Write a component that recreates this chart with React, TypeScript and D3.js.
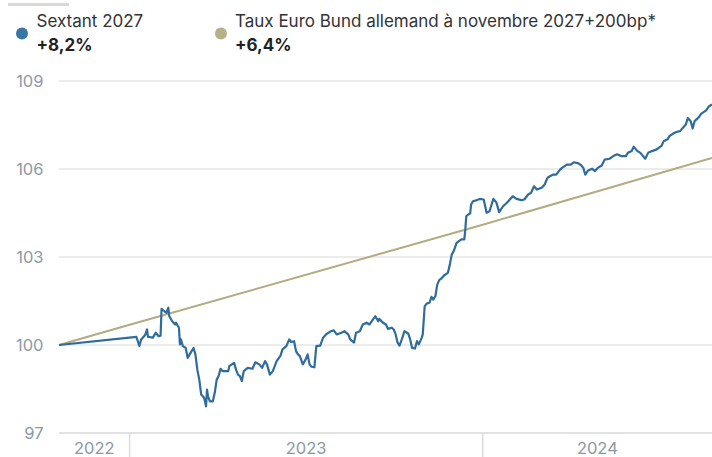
import React from "react";
import * as d3 from "d3";

const sextantDates: string[] = [
  "2022-10-20","2023-01-08","2023-01-11","2023-01-13","2023-01-17","2023-01-19","2023-01-20","2023-01-25","2023-01-28","2023-01-31",
  "2023-02-02","2023-02-03","2023-02-06","2023-02-08","2023-02-10","2023-02-11","2023-02-14","2023-02-17","2023-02-18","2023-02-21",
  "2023-02-22","2023-02-23","2023-02-25","2023-02-28","2023-03-02","2023-03-05","2023-03-08","2023-03-10","2023-03-12","2023-03-14",
  "2023-03-16","2023-03-19","2023-03-21","2023-03-22","2023-03-23","2023-03-25","2023-03-28","2023-03-30","2023-04-01","2023-04-03",
  "2023-04-05","2023-04-07","2023-04-13","2023-04-14","2023-04-19","2023-04-21","2023-04-23","2023-04-25","2023-04-27","2023-04-29",
  "2023-05-03","2023-05-08","2023-05-11","2023-05-15","2023-05-18","2023-05-21","2023-05-23","2023-05-26","2023-05-29","2023-06-02",
  "2023-06-06","2023-06-08","2023-06-12","2023-06-15","2023-06-17","2023-06-20","2023-06-22","2023-06-24","2023-06-26","2023-06-29",
  "2023-07-02","2023-07-04","2023-07-06","2023-07-08","2023-07-11","2023-07-13","2023-07-17","2023-07-20","2023-07-23","2023-07-28",
  "2023-07-31","2023-08-03","2023-08-08","2023-08-11","2023-08-15","2023-08-17","2023-08-21","2023-08-23","2023-08-27","2023-08-30",
  "2023-09-03","2023-09-06","2023-09-10","2023-09-12","2023-09-15","2023-09-16","2023-09-20","2023-09-23","2023-09-25","2023-09-29",
  "2023-10-01","2023-10-03","2023-10-05","2023-10-07","2023-10-10","2023-10-12","2023-10-16","2023-10-18","2023-10-20","2023-10-23",
  "2023-10-25","2023-10-27","2023-10-30","2023-10-31","2023-11-02","2023-11-04","2023-11-07","2023-11-09","2023-11-11","2023-11-13",
  "2023-11-15","2023-11-17","2023-11-19","2023-11-22","2023-11-26","2023-11-28","2023-11-30","2023-12-02","2023-12-05","2023-12-08",
  "2023-12-10","2023-12-13","2023-12-14","2023-12-15","2023-12-17","2023-12-19","2023-12-20","2023-12-22","2023-12-26","2023-12-29",
  "2024-01-02","2024-01-05","2024-01-08","2024-01-12","2024-01-15","2024-01-18","2024-01-22","2024-01-26","2024-02-01","2024-02-05",
  "2024-02-10","2024-02-13","2024-02-17","2024-02-20","2024-02-23","2024-02-26","2024-03-02","2024-03-05","2024-03-08","2024-03-11",
  "2024-03-14","2024-03-17","2024-03-21","2024-03-23","2024-03-28","2024-04-01","2024-04-04","2024-04-09","2024-04-12","2024-04-14",
  "2024-04-16","2024-04-19","2024-04-23","2024-04-26","2024-04-29","2024-05-03","2024-05-06","2024-05-11","2024-05-15","2024-05-19",
  "2024-05-23","2024-05-28","2024-05-30","2024-06-03","2024-06-05","2024-06-09","2024-06-12","2024-06-17","2024-06-20","2024-06-24",
  "2024-06-29","2024-07-04","2024-07-06","2024-07-10","2024-07-12","2024-07-16","2024-07-19","2024-07-23","2024-07-26","2024-07-29",
  "2024-07-31","2024-08-03","2024-08-05","2024-08-07","2024-08-11","2024-08-14","2024-08-19","2024-08-22","2024-08-25",
];

const sextantValues: number[] = [
  100.0,100.28,99.97,100.19,100.34,100.53,100.28,100.25,100.42,100.30,
  100.32,101.23,101.15,101.10,101.27,100.98,100.81,100.70,100.76,100.59,
  100.02,100.19,99.96,99.90,99.56,99.73,99.90,99.68,99.16,98.82,
  98.31,98.20,97.91,98.48,98.25,98.08,98.08,98.37,98.82,98.94,
  99.19,99.11,99.11,99.28,99.39,99.16,98.99,98.94,98.77,99.11,
  99.22,99.19,99.41,99.34,99.22,99.45,99.34,98.99,99.11,99.45,
  99.64,99.85,99.96,100.19,100.10,100.13,99.79,99.68,99.62,99.34,
  99.51,99.68,99.34,99.26,99.24,99.96,99.98,100.25,100.36,100.47,
  100.50,100.36,100.42,100.47,100.36,100.19,100.08,100.42,100.47,100.70,
  100.76,100.70,100.89,100.98,100.81,100.89,100.76,100.70,100.55,100.59,
  100.53,100.36,100.08,99.98,100.25,100.47,100.39,100.19,99.90,99.88,
  100.13,100.02,100.25,100.36,101.32,101.41,101.44,101.64,101.55,101.66,
  102.06,102.21,102.26,102.37,102.46,102.74,103.09,103.20,103.48,103.56,
  103.60,103.60,103.94,104.39,104.45,104.48,104.79,104.90,104.94,104.98,
  104.96,104.51,104.56,104.98,104.87,104.53,104.73,104.85,105.07,104.98,
  104.94,104.96,105.13,105.19,105.41,105.30,105.36,105.47,105.70,105.76,
  105.81,105.81,105.98,106.04,106.15,106.15,106.23,106.19,106.12,106.04,
  105.81,105.95,106.01,105.93,106.04,106.12,106.32,106.35,106.44,106.50,
  106.44,106.44,106.55,106.61,106.76,106.61,106.55,106.35,106.55,106.61,
  106.67,106.80,106.95,107.01,107.12,107.21,107.26,107.29,107.41,107.52,
  107.74,107.63,107.38,107.63,107.75,107.89,108.00,108.14,108.20,
];

const bundDates: string[] = ["2022-10-20", "2023-01-01", "2024-01-01", "2024-08-25"];
const bundValues: number[] = [100.0, 100.69, 104.1, 106.38];

const yTicks: number[] = [97, 100, 103, 106, 109];
const yearBoundaries: string[] = ["2023-01-01", "2024-01-01"];
const yearLabels: string[] = ["2022", "2023", "2024"];

const seriesNames: string[] = ["Sextant 2027", "Taux Euro Bund allemand à novembre 2027+200bp*"];
const seriesPerf: string[] = ["+8,2%", "+6,4%"];
const seriesColors: string[] = ["#2f6c9c", "#b3ab82"];
const dotColors: string[] = ["#3876a6", "#b8b08a"];

const W = 712;
const H = 457;
const margin = { left: 59, right: 0 };
const FONT = "Inter, 'Noto Sans', sans-serif";

export default function App() {
  const parse = d3.timeParse("%Y-%m-%d");
  const sextant = sextantDates.map((d, i) => ({ date: parse(d) as Date, value: sextantValues[i] }));
  const bund = bundDates.map((d, i) => ({ date: parse(d) as Date, value: bundValues[i] }));

  const x = d3
    .scaleTime()
    .domain([parse(sextantDates[0]) as Date, parse(sextantDates[sextantDates.length - 1]) as Date])
    .range([margin.left, W - margin.right]);
  const y = d3.scaleLinear().domain([97, 109]).range([433, 81]);

  const line = d3
    .line<{ date: Date; value: number }>()
    .x((d) => x(d.date))
    .y((d) => y(d.value));

  const bounds = [x.range()[0], ...yearBoundaries.map((d) => x(parse(d) as Date)), x.range()[1]];

  const legendX = [36.5, 235];
  const dotX = [22, 221];

  return (
    <svg
      width={W}
      height={H}
      style={{ position: "fixed", left: 0, top: 0, background: "#fff" }}
      fontFamily={FONT}
    >
      <rect x={0} y={0} width={W} height={H} fill="#fff" />
      <rect x={8} y={3} width={61} height={3} fill="#d9d9d9" />
      {seriesNames.map((name, i) => (
        <g key={name}>
          <circle cx={dotX[i]} cy={33.5} r={6} fill={dotColors[i]} />
          <text x={legendX[i]} y={27.3} fontSize={17} fill="#333">
            {name}
          </text>
          <text x={legendX[i]} y={50.7} fontSize={17} fontWeight={700} fill="#222">
            {seriesPerf[i]}
          </text>
        </g>
      ))}
      {yTicks.map((t) => (
        <g key={t}>
          <line
            x1={margin.left}
            x2={W}
            y1={y(t)}
            y2={y(t)}
            stroke={t === 97 ? "#d9d9d9" : "#e6e6e6"}
            strokeWidth={1.5}
          />
          <text x={43.5} y={y(t) + 6} fontSize={16.5} fill="#8c99a3" textAnchor="end">
            {t}
          </text>
        </g>
      ))}
      {yearBoundaries.map((d) => (
        <line
          key={d}
          x1={x(parse(d) as Date)}
          x2={x(parse(d) as Date)}
          y1={433}
          y2={H}
          stroke="#dcdcdc"
          strokeWidth={1.5}
        />
      ))}
      {yearLabels.map((lab, i) => (
        <text
          key={lab}
          x={(bounds[i] + bounds[i + 1]) / 2}
          y={454}
          fontSize={16.5}
          fill="#8c99a3"
          textAnchor="middle"
        >
          {lab}
        </text>
      ))}
      <path d={line(bund) || ""} fill="none" stroke={seriesColors[1]} strokeWidth={2} />
      <path
        d={line(sextant) || ""}
        fill="none"
        stroke={seriesColors[0]}
        strokeWidth={2.2}
        strokeLinejoin="round"
      />
    </svg>
  );
}
